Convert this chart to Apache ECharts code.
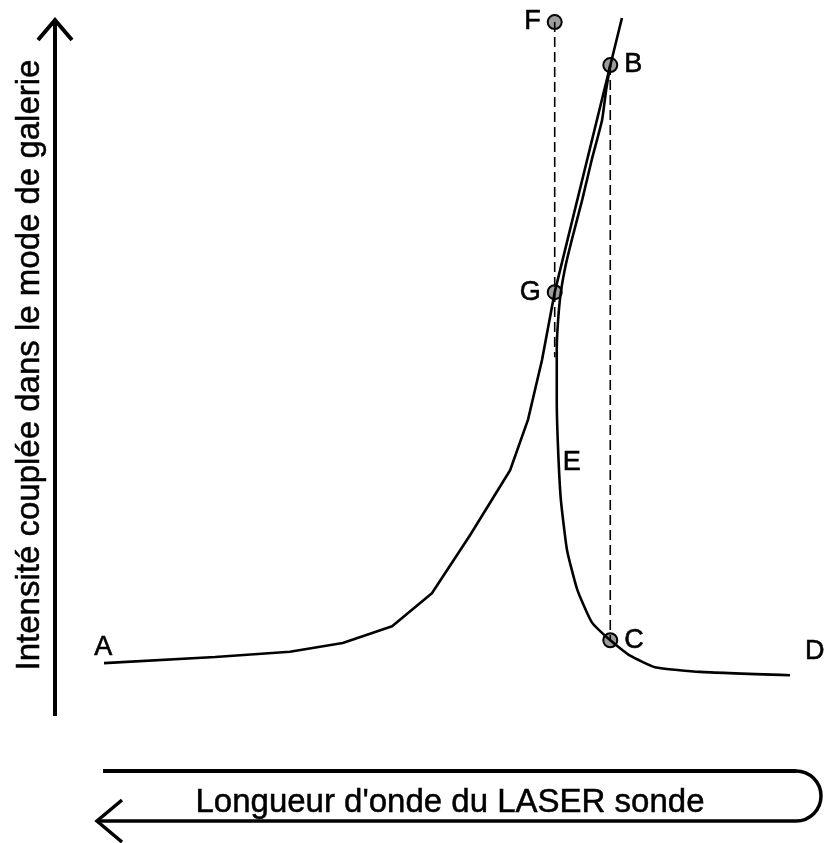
<!DOCTYPE html>
<html>
<head>
<meta charset="utf-8">
<script src="https://cdn.jsdelivr.net/npm/echarts@6/dist/echarts.min.js"></script>
<style>
  html, body { margin: 0; padding: 0; background: #fff; }
  #chart { width: 825px; height: 843px; }
</style>
</head>
<body>
<div id="chart"></div>
<script>
// Bistable response of a whispering-gallery mode (arbitrary units).
// x: probe wavelength position, y: coupled intensity.

// Rising branch, A -> G -> top
const risingX = [0, 16.2, 27.1, 34.8, 42.0, 47.8, 53.4, 59.2, 61.8, 63.85, 65.7, 75.5];
const risingY = [4.0, 4.9, 5.7, 7.0, 9.5, 14.4, 23.1, 32.7, 40.2, 49.1, 59.2, 100];

// Return branch, B -> E -> C -> D
const fallingX = [73.8, 73.2, 72.6, 71.1, 69.7, 68.2, 67.3, 66.6, 66.2, 66.0, 66.0, 66.2, 66.6, 67.5, 69.0, 71.1, 73.8, 76.7, 80.3, 86.9, 100];
const fallingY = [93.0, 89.3, 84.8, 78.9, 72.9, 67.0, 63.2, 59.2, 55.1, 50.6, 43.2, 35.7, 28.3, 20.8, 14.9, 10.1, 7.4, 5.1, 3.4, 2.7, 2.2];

// Marked states
const pointNames = ['F', 'B', 'G', 'C'];
const pointX = [65.7, 73.8, 65.7, 73.8];
const pointY = [99.4, 93.0, 59.2, 7.4];

// Vertical guides F-G and B-C
const guideFX = [65.7, 65.7];
const guideFY = [99.4, 49.5];
const guideBX = [73.8, 73.8];
const guideBY = [93.0, 7.4];

// Free labels
const tagNames = ['A', 'D', 'E'];
const tagX = [-0.1, 103.6, 68.2];
const tagY = [6.3, 5.7, 33.9];

const yTitle = 'Intensité couplée dans le mode de galerie';
const xTitle = "Longueur d'onde du LASER sonde";

const zip = (xs, ys) => xs.map((x, i) => [x, ys[i]]);
const FONT = '"Liberation Sans", Arial, Helvetica, sans-serif';
const labelStyle = {
  color: '#000', fontSize: 27, fontFamily: FONT,
  textBorderColor: '#000', textBorderWidth: 0.6
};

const chart = echarts.init(document.getElementById('chart'), null, { renderer: 'canvas' });

const pointLabelPos = { F: 'left', B: 'right', G: 'left', C: 'right' };

chart.setOption({
  animation: false,
  backgroundColor: '#ffffff',
  grid: { left: 104, right: 35, top: 18, bottom: 153 },
  xAxis: { type: 'value', min: 0, max: 100, show: false },
  yAxis: { type: 'value', min: 0, max: 100, show: false },
  series: [
    {
      type: 'line', data: zip(guideFX, guideFY), symbol: 'none', silent: true,
      lineStyle: { color: '#000', width: 1.6, type: [10, 5] }
    },
    {
      type: 'line', data: zip(guideBX, guideBY), symbol: 'none', silent: true,
      lineStyle: { color: '#000', width: 1.6, type: [10, 5] }
    },
    {
      type: 'line', data: zip(risingX, risingY), symbol: 'none',
      lineStyle: { color: '#000', width: 2.6 }
    },
    {
      type: 'line', data: zip(fallingX, fallingY), symbol: 'none', smooth: 0.15,
      lineStyle: { color: '#000', width: 2.6 }
    },
    {
      type: 'scatter', clip: false, symbol: 'circle', symbolSize: 14,
      itemStyle: { color: '#9c9c9c', borderColor: '#000', borderWidth: 2, opacity: 1 },
      data: pointNames.map((n, i) => ({
        name: n, value: [pointX[i], pointY[i]],
        label: Object.assign({ show: true, position: pointLabelPos[n], formatter: n, distance: 6 }, labelStyle)
      }))
    },
    {
      type: 'scatter', clip: false, symbolSize: 0, silent: true,
      itemStyle: { opacity: 1 },
      data: tagNames.map((n, i) => ({
        name: n, value: [tagX[i], tagY[i]],
        label: Object.assign({ show: true, position: 'inside', formatter: n }, labelStyle)
      }))
    }
  ],
  graphic: [
    // vertical axis arrow
    { type: 'line', shape: { x1: 55, y1: 716, x2: 55, y2: 20 }, style: { stroke: '#000', lineWidth: 4 } },
    { type: 'polyline', shape: { points: [[38, 40], [55, 20], [72, 40]] }, style: { stroke: '#000', lineWidth: 4, fill: null } },
    // wavelength sweep arrow (U-turn)
    { type: 'line', shape: { x1: 103, y1: 771, x2: 796, y2: 771 }, style: { stroke: '#000', lineWidth: 4 } },
    { type: 'arc', shape: { cx: 796, cy: 796, r: 25, startAngle: -Math.PI / 2, endAngle: Math.PI / 2, clockwise: true }, style: { stroke: '#000', lineWidth: 3.5, fill: null } },
    { type: 'line', shape: { x1: 98, y1: 821, x2: 796, y2: 821 }, style: { stroke: '#000', lineWidth: 3.5 } },
    { type: 'polyline', shape: { points: [[122, 800], [97, 821], [122, 842]] }, style: { stroke: '#000', lineWidth: 3.5, fill: null } },
    // titles
    {
      type: 'text', x: 30, y: 365, rotation: Math.PI / 2,
      style: { text: yTitle, fontSize: 33, fontFamily: FONT, fill: '#000', align: 'center', verticalAlign: 'middle',
               stroke: '#000', lineWidth: 0.5 }
    },
    {
      type: 'text', x: 450, y: 803,
      style: { text: xTitle, fontSize: 33, fontFamily: FONT, fill: '#000', align: 'center', verticalAlign: 'middle',
               stroke: '#000', lineWidth: 0.5 }
    }
  ]
});
</script>
</body>
</html>
